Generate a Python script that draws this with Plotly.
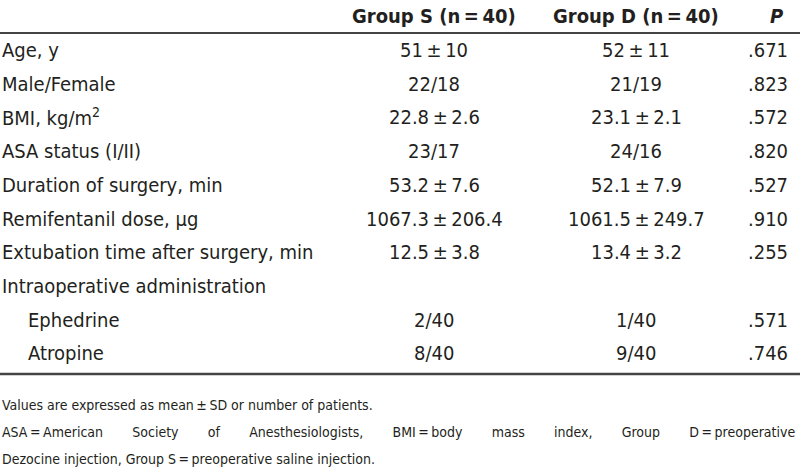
import plotly.graph_objects as go

W, H = 800, 473

headers = ["", "Group S (n\u2009=\u200940)", "Group D (n\u2009=\u200940)", "P"]
row_labels = ["Age, y", "Male/Female", "BMI, kg/m<sup>2</sup>", "ASA status (I/II)",
              "Duration of surgery, min", "Remifentanil dose, \u03bcg",
              "Extubation time after surgery, min", "Intraoperative administration",
              "Ephedrine", "Atropine"]
indented = [False, False, False, False, False, False, False, False, True, True]
group_s = ["51\u2009\u00b1\u200910", "22/18", "22.8\u2009\u00b1\u20092.6", "23/17", "53.2\u2009\u00b1\u20097.6",
           "1067.3\u2009\u00b1\u2009206.4", "12.5\u2009\u00b1\u20093.8", "", "2/40", "8/40"]
group_d = ["52\u2009\u00b1\u200911", "21/19", "23.1\u2009\u00b1\u20092.1", "24/16", "52.1\u2009\u00b1\u20097.9",
           "1061.5\u2009\u00b1\u2009249.7", "13.4\u2009\u00b1\u20093.2", "", "1/40", "9/40"]
p_values = [".671", ".823", ".572", ".820", ".527", ".910", ".255", "", ".571", ".746"]
footnotes = ["Values are expressed as mean\u2009\u00b1\u2009SD or number of patients.",
             "ASA\u2009=\u2009American Society of Anesthesiologists, BMI\u2009=\u2009body mass index, Group D\u2009=\u2009preoperative",
             "Dezocine injection, Group S\u2009=\u2009preoperative saline injection."]
footnote_justify = [False, True, False]

FONT = "Liberation Sans Narrow, DejaVu Sans Condensed, Arial Narrow, sans-serif"
COL = "#231f20"

def py(y):
    return 1 - y / H

def px(x):
    return x / W

ann = []
ann.append(dict(x=px(434), y=py(16), text="<b>" + headers[1] + "</b>", xanchor="center"))
ann.append(dict(x=px(636), y=py(16), text="<b>" + headers[2] + "</b>", xanchor="center"))
ann.append(dict(x=px(776), y=py(16), text="<b><i>" + headers[3] + "</i></b>", xanchor="center"))

row0, step = 50, 33.7
for i, lab in enumerate(row_labels):
    y = row0 + i * step
    ann.append(dict(x=px(26 if indented[i] else 0), y=py(y), text=lab, xanchor="left"))
    if group_s[i]:
        ann.append(dict(x=px(434), y=py(y), text=group_s[i], xanchor="center"))
    if group_d[i]:
        ann.append(dict(x=px(636), y=py(y), text=group_d[i], xanchor="center"))
    if p_values[i]:
        ann.append(dict(x=px(790), y=py(y), text=p_values[i], xanchor="right"))

for a in ann:
    a.update(xref="paper", yref="paper", yanchor="middle", showarrow=False,
             font=dict(family=FONT, size=20, color=COL))

for j, t in enumerate(footnotes):
    if footnote_justify[j]:
        t = t.replace(" ", " " + "\u00a0" * 6 + "\u200a")
    ann.append(dict(x=0, y=py(405 + j * 27), text=t, xref="paper", yref="paper",
                    xanchor="left", yanchor="middle", showarrow=False,
                    font=dict(family=FONT, size=14, color=COL)))

shapes = [
    dict(type="line", xref="paper", yref="paper", x0=0, x1=1, y0=py(33), y1=py(33),
         line=dict(color="#444", width=2)),
    dict(type="line", xref="paper", yref="paper", x0=0, x1=1, y0=py(374), y1=py(374),
         line=dict(color="#444", width=2.5)),
]

fig = go.Figure()
fig.update_layout(width=W, height=H, margin=dict(l=0, r=0, t=0, b=0),
                  paper_bgcolor="white", plot_bgcolor="white",
                  xaxis=dict(visible=False), yaxis=dict(visible=False),
                  annotations=ann, shapes=shapes, showlegend=False)
fig.write_html("out.html", config={"displayModeBar": False},
               post_script="document.body.style.margin='0';document.body.style.overflow='hidden';")
